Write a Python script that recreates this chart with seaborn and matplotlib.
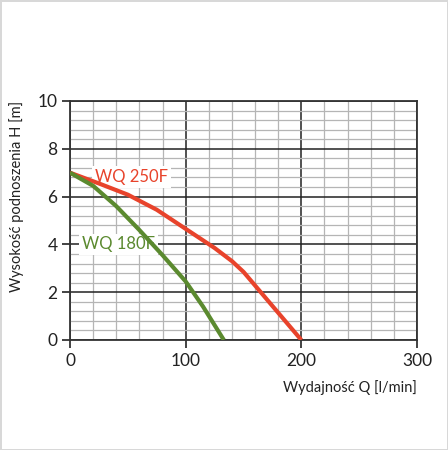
import numpy as np
import pandas as pd
import matplotlib
matplotlib.use('Agg')
import matplotlib.pyplot as plt
import seaborn as sns
from matplotlib.ticker import MultipleLocator

# WQ 250F
q_250 = [0, 25, 50, 75, 100, 125, 140, 150, 200]
h_250 = [7.0, 6.55, 6.08, 5.45, 4.65, 3.85, 3.3, 2.85, 0.0]
# WQ 180F
q_180 = [0, 20, 40, 60, 80, 100, 115, 133]
h_180 = [7.0, 6.45, 5.6, 4.6, 3.55, 2.45, 1.4, 0.0]

x_ticks = [0, 100, 200, 300]
y_ticks = [0, 2, 4, 6, 8, 10]

red = '#E8432B'
green = '#5B8A2F'

sns.set_style('white')
plt.rcParams['font.family'] = ['Lato', 'DejaVu Sans']

df = pd.concat([
    pd.DataFrame({'Q': q_250, 'H': h_250, 'pompa': 'WQ 250F'}),
    pd.DataFrame({'Q': q_180, 'H': h_180, 'pompa': 'WQ 180F'}),
])

fig = plt.figure(figsize=(4.48, 4.5), dpi=100)
fig.patch.set_edgecolor('#d8d8d8')
fig.patch.set_linewidth(2)
ax = fig.add_axes([70 / 448, 1 - 340 / 450, 347 / 448, 239 / 450])

# siatka
ax.xaxis.set_minor_locator(MultipleLocator(20))
ax.yaxis.set_minor_locator(MultipleLocator(0.4))
ax.grid(which='minor', color='#b5b5b5', linewidth=0.9)
ax.grid(which='major', color='#222222', linewidth=1.1)
ax.set_axisbelow(True)

sns.lineplot(data=df, x='Q', y='H', hue='pompa', palette={'WQ 250F': red, 'WQ 180F': green},
             linewidth=3, legend=False, ax=ax, sort=False, zorder=3,
             solid_joinstyle='round', solid_capstyle='butt')

ax.set_xlim(0, 300)
ax.set_ylim(0, 10)
ax.set_xticks(x_ticks)
ax.set_yticks(y_ticks)
ax.tick_params(which='major', direction='out', length=6, width=1.2, color='#222222',
               labelsize=12.5, labelcolor='#222222', pad=3, left=True, bottom=True)
ax.tick_params(which='minor', length=0)
for s in ax.spines.values():
    s.set_color('#333333')
    s.set_linewidth(1.3)

ax.set_xlabel('Wydajność Q [l/min]', fontsize=10.5, color='#222222', loc='right', labelpad=8)
ax.set_ylabel('Wysokość podnoszenia H [m]', fontsize=10.5, color='#222222', loc='top', labelpad=10)

box = dict(facecolor='white', edgecolor='none', pad=2)
ax.text(53, 6.82, 'WQ 250F', color=red, fontsize=12, ha='center', va='center', bbox=box, zorder=2)
ax.text(42, 4.0, 'WQ 180F', color=green, fontsize=12, ha='center', va='center', bbox=box, zorder=2)

fig.savefig('out.png', dpi=100)
